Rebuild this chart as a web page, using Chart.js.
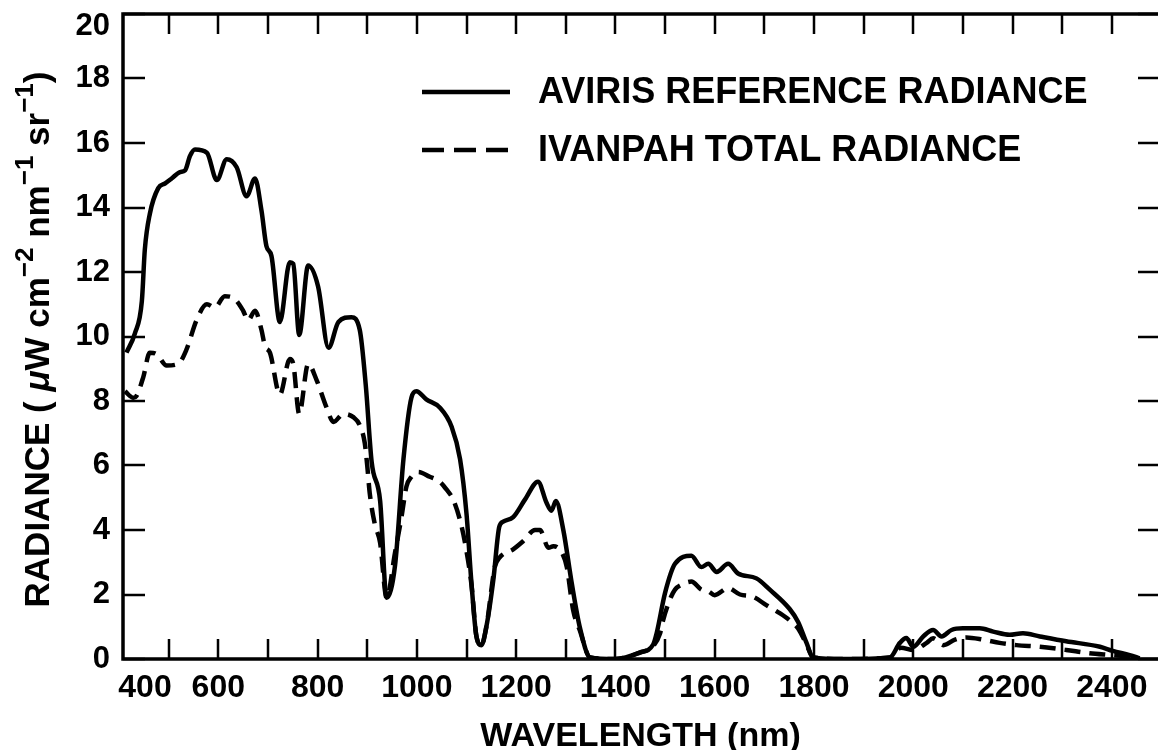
<!DOCTYPE html>
<html>
<head>
<meta charset="utf-8">
<script src="https://cdn.jsdelivr.net/npm/chart.js@4.4.0/dist/chart.umd.min.js"></script>
<style>
  html, body { margin: 0; padding: 0; background: #fff; }
  #wrap { width: 1158px; height: 750px; }
</style>
</head>
<body>
<div id="wrap"><canvas id="radiance"></canvas></div>
<script>
// wavelength (nm) and radiance
const aviris_nm = [
  415, 432, 446, 452, 462, 479, 493, 506, 523, 533,
  543, 553, 577, 597, 617, 637, 657, 674, 687, 697,
  707, 724, 744, 751, 763, 781, 801, 822, 842, 868,
  885, 897, 909, 926, 939, 956, 973, 989, 999, 1019,
  1046, 1070, 1087, 1100, 1110, 1120, 1130, 1140, 1154, 1166,
  1174, 1194, 1218, 1244, 1261, 1271, 1280, 1295, 1312, 1328,
  1349, 1400, 1449, 1476, 1483, 1500, 1520, 1553, 1573, 1587,
  1604, 1627, 1647, 1684, 1711, 1751, 1768, 1785, 1798, 1860,
  1953, 1973, 1986, 2000, 2020, 2040, 2057, 2077, 2100, 2134,
  2161, 2194, 2221, 2255, 2308, 2376, 2402, 2436, 2456,
];
const aviris_radiance = [
  9.5, 10.1, 11.1, 12.7, 13.8, 14.6, 14.75, 14.9, 15.1, 15.15,
  15.6, 15.8, 15.7, 14.85, 15.5, 15.25, 14.35, 14.9, 13.9, 12.8,
  12.5, 10.45, 12.3, 12.25, 10.05, 12.2, 11.55, 9.65, 10.45, 10.6,
  10.2, 8.5, 6.1, 4.9, 1.9, 2.9, 6.2, 8.1, 8.3, 8.05,
  7.8, 7.2, 6.2, 4.5, 2.35, 0.7, 0.43, 1.0, 2.45, 4.1,
  4.26, 4.4, 4.95, 5.5, 4.85, 4.6, 4.9, 4.0, 2.35, 1.0,
  0.05, 0, 0.2, 0.45, 0.8, 2.05, 2.95, 3.2, 2.85, 2.95,
  2.7, 2.95, 2.65, 2.5, 2.15, 1.55, 1.15, 0.5, 0.05, 0,
  0.05, 0.5, 0.65, 0.38, 0.7, 0.9, 0.7, 0.9, 0.95, 0.95,
  0.85, 0.75, 0.8, 0.7, 0.55, 0.38, 0.25, 0.12, 0.02,
];

const ivanpah_nm = [
  412, 429, 435, 449, 462, 476, 496, 519, 536, 556,
  577, 593, 613, 630, 650, 660, 674, 687, 694, 704,
  724, 744, 751, 763, 781, 798, 818, 832, 852, 872,
  885, 895, 900, 905, 915, 926, 939, 956, 969, 979,
  989, 1003, 1026, 1046, 1060, 1073, 1087, 1097, 1110, 1120,
  1130, 1140, 1157, 1167, 1194, 1214, 1238, 1248, 1265, 1275,
  1292, 1302, 1315, 1328, 1349, 1400, 1449, 1476, 1490, 1496,
  1510, 1520, 1533, 1553, 1573, 1587, 1600, 1627, 1651, 1677,
  1704, 1731, 1751, 1768, 1785, 1798, 1860, 1953, 1975, 2000,
  2027, 2040, 2061, 2084, 2107, 2141, 2174, 2208, 2255, 2308,
  2355, 2402, 2436, 2456,
];
const ivanpah_radiance = [
  8.3, 8.1, 8.15, 8.75, 9.5, 9.45, 9.1, 9.15, 9.6, 10.5,
  11.0, 10.9, 11.25, 11.2, 10.8, 10.5, 10.8, 10.2, 9.7, 9.5,
  8.2, 9.3, 9.15, 7.6, 9.15, 8.65, 7.8, 7.35, 7.6, 7.5,
  7.25, 6.7, 6.0, 5.15, 4.2, 3.6, 1.9, 3.3, 4.4, 5.35,
  5.65, 5.8, 5.65, 5.5, 5.25, 4.95, 4.3, 3.6, 2.3, 0.7,
  0.43, 1.0, 2.85, 3.15, 3.4, 3.65, 4.0, 4.0, 3.45, 3.5,
  3.3, 2.85, 1.5, 0.9, 0.05, 0, 0.2, 0.4, 0.8, 1.2,
  1.85, 2.15, 2.3, 2.4, 2.15, 2.1, 1.98, 2.2, 2.0, 1.93,
  1.67, 1.42, 1.2, 0.95, 0.45, 0.05, 0, 0.05, 0.35, 0.28,
  0.5, 0.64, 0.43, 0.6, 0.67, 0.6, 0.5, 0.43, 0.38, 0.28,
  0.18, 0.12, 0.07, 0.02,
];

const series_labels = ["AVIRIS REFERENCE RADIANCE", "IVANPAH TOTAL RADIANCE"];

// tick marks every 100 nm, labels every 200 nm (400 is drawn apart, off the corner)
const wavelength_ticks = [500, 600, 700, 800, 900, 1000, 1100, 1200, 1300, 1400, 1500,
  1600, 1700, 1800, 1900, 2000, 2100, 2200, 2300, 2400];
const wavelength_labels = [600, 800, 1000, 1200, 1400, 1600, 1800, 2000, 2200, 2400];
const first_wavelength_label = "400";
const radiance_ticks = [0, 2, 4, 6, 8, 10, 12, 14, 16, 18, 20];
const top_radiance_label = "20"; // printed a little below its tick, drawn apart

// y title pieces: [text, superscript?, italic?]
const y_title = [
  ["RADIANCE ( ", false, false],
  ["\u03bc", false, true],
  ["W cm", false, false],
  ["\u22122", true, false],
  [" nm", false, false],
  ["\u22121", true, false],
  [" sr", false, false],
  ["\u22121", true, false],
  [")", false, false],
];

const FONT = '"Liberation Sans", Arial, Helvetica, sans-serif';

function toPoints(xs, ys) {
  return xs.map((x, i) => ({ x: x, y: ys[i] }));
}

// box, inward ticks on all four sides, legend and the y title
const framePlugin = {
  id: "frame",
  afterDraw(chart) {
    const { ctx, chartArea: a, scales } = chart;
    const x = scales.x, y = scales.y;
    ctx.save();
    ctx.strokeStyle = "#000";
    ctx.fillStyle = "#000";

    ctx.lineWidth = 3.5;
    ctx.beginPath();
    ctx.moveTo(a.right, a.top);
    ctx.lineTo(a.left, a.top);
    ctx.lineTo(a.left, a.bottom);
    ctx.lineTo(a.right, a.bottom);
    ctx.stroke();

    ctx.lineWidth = 2.5;
    ctx.beginPath();
    x.ticks.forEach(t => {
      const px = Math.round(x.getPixelForValue(t.value));
      ctx.moveTo(px, a.bottom); ctx.lineTo(px, a.bottom - 20);
      ctx.moveTo(px, a.top); ctx.lineTo(px, a.top + 20);
    });
    y.ticks.forEach(t => {
      const py = Math.round(y.getPixelForValue(t.value));
      ctx.moveTo(a.left, py); ctx.lineTo(a.left + 22, py);
      ctx.moveTo(a.right, py); ctx.lineTo(a.right - 20, py);
    });
    ctx.stroke();

    // the 400 label sits right of the corner
    ctx.font = "bold 32px " + FONT;
    ctx.textAlign = "center";
    ctx.textBaseline = "middle";
    ctx.fillText(first_wavelength_label, a.left + 22, a.bottom + 10 + 19);

    // the 20 label sits just under the top edge
    ctx.font = "bold 31px " + FONT;
    ctx.textAlign = "right";
    ctx.fillText(top_radiance_label, a.left - 13, a.top + 12);

    // legend
    ctx.textAlign = "left";
    ctx.font = "bold 36px " + FONT;
    chart.data.datasets.forEach((ds, i) => {
      const ly = 92 + i * 58;
      ctx.lineWidth = 4.5;
      ctx.setLineDash(ds.borderDash ? [22, 10] : []);
      ctx.beginPath();
      ctx.moveTo(422, ly);
      ctx.lineTo(510, ly);
      ctx.stroke();
      ctx.setLineDash([]);
      ctx.fillText(ds.label, 538, ly + 1);
    });

    // rotated y title with superscripts
    const mainFont = "bold 35px " + FONT;
    const italicFont = "italic bold 35px " + FONT;
    const supFont = "bold 26px " + FONT;
    ctx.translate(37, (a.top + a.bottom) / 2 + 3);
    ctx.rotate(-Math.PI / 2);
    ctx.textBaseline = "alphabetic";
    let total = 0;
    const widths = y_title.map(([t, sup, it]) => {
      ctx.font = sup ? supFont : (it ? italicFont : mainFont);
      const w = ctx.measureText(t).width;
      total += w;
      return w;
    });
    let cx = -total / 2;
    y_title.forEach(([t, sup, it], i) => {
      ctx.font = sup ? supFont : (it ? italicFont : mainFont);
      ctx.fillText(t, cx, sup ? 12 - 16 : 12);
      cx += widths[i];
    });
    ctx.restore();
  },
};

new Chart(document.getElementById("radiance"), {
  type: "line",
  data: {
    datasets: [
      {
        label: series_labels[0],
        data: toPoints(aviris_nm, aviris_radiance),
        borderColor: "#000",
        borderWidth: 4.5,
        pointRadius: 0,
        cubicInterpolationMode: "monotone",
        fill: false,
      },
      {
        label: series_labels[1],
        data: toPoints(ivanpah_nm, ivanpah_radiance),
        borderColor: "#000",
        borderWidth: 4.5,
        borderDash: [16, 9],
        pointRadius: 0,
        cubicInterpolationMode: "monotone",
        fill: false,
      },
    ],
  },
  options: {
    responsive: true,
    maintainAspectRatio: false,
    animation: false,
    layout: { padding: { top: 14, right: 0, left: 0, bottom: 0 } },
    plugins: {
      legend: { display: false },
      tooltip: { enabled: false },
    },
    scales: {
      x: {
        type: "linear",
        min: 408,
        max: 2493,
        afterFit: s => {
          s.height = 91;
          s.paddingLeft = 0;
          s.paddingRight = 0;
        },
        afterBuildTicks: s => { s.ticks = wavelength_ticks.map(v => ({ value: v })); },
        grid: { display: false, drawTicks: false },
        border: { display: false },
        ticks: {
          autoSkip: false,
          maxRotation: 0,
          padding: 10,
          color: "#000",
          font: { family: FONT, size: 32, weight: "bold" },
          callback: v => (wavelength_labels.includes(v) ? String(v) : ""),
        },
        title: {
          display: true,
          text: "WAVELENGTH (nm)",
          color: "#000",
          font: { family: FONT, size: 34, weight: "bold", lineHeight: 1 },
          padding: { top: 0, bottom: -4 },
        },
      },
      y: {
        min: 0,
        max: 20,
        afterFit: s => {
          s.width = 123;
          s.paddingTop = 0;
          s.paddingBottom = 0;
        },
        afterBuildTicks: s => { s.ticks = radiance_ticks.map(v => ({ value: v })); },
        grid: { display: false, drawTicks: false },
        border: { display: false },
        ticks: {
          padding: 13,
          color: "#000",
          font: { family: FONT, size: 31, weight: "bold" },
          callback: v => (String(v) === top_radiance_label ? "" : String(v)),
        },
      },
    },
  },
  plugins: [framePlugin],
});
</script>
</body>
</html>
